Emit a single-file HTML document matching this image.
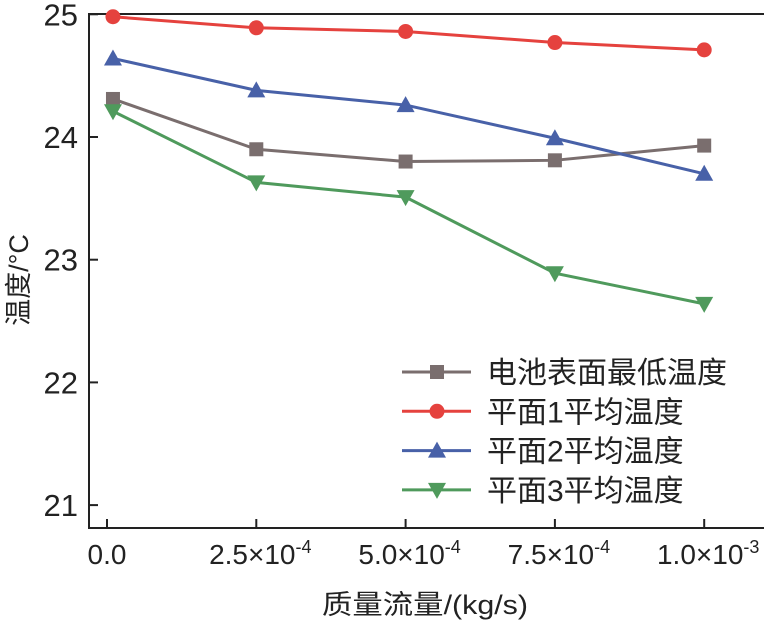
<!DOCTYPE html>
<html><head><meta charset="utf-8"><style>
body{margin:0;background:#fff;}
svg{display:block;font-family:"Liberation Sans","Noto Sans CJK SC",sans-serif;}
</style></head><body>
<svg id="chart" width="764" height="623">
<rect x="89" y="14" width="700" height="514" fill="none" stroke="#222" stroke-width="2"/>
<g id="axes"></g>
<g id="series"></g>
<g id="legend"></g>
<text x="425" y="614" font-size="27" text-anchor="middle" fill="#222" textLength="206" lengthAdjust="spacingAndGlyphs">质量流量/(kg/s)</text>
<text transform="translate(28,280) rotate(-90)" font-size="27" text-anchor="middle" fill="#222">温度/°C</text>
</svg>
<script>
const xValues = [0.00001, 0.00025, 0.0005, 0.00075, 0.001];
const seriesNames = ["电池表面最低温度","平面1平均温度","平面2平均温度","平面3平均温度"];
const minTemp = [24.31, 23.90, 23.80, 23.81, 23.93];
const plane1 = [24.98, 24.89, 24.86, 24.77, 24.71];
const plane2 = [24.64, 24.38, 24.26, 23.99, 23.70];
const plane3 = [24.21, 23.63, 23.51, 22.89, 22.64];
const yTicks = [21, 22, 23, 24, 25];
const xTicks = [0, 0.00025, 0.0005, 0.00075, 0.001];
const xTickLabels = ["0.0", "2.5×10<tspan dy='-11' font-size='18'>-4</tspan>", "5.0×10<tspan dy='-11' font-size='18'>-4</tspan>", "7.5×10<tspan dy='-11' font-size='18'>-4</tspan>", "1.0×10<tspan dy='-11' font-size='18'>-3</tspan>"];

const NS = "http://www.w3.org/2000/svg";
const xs = v => 107 + v / 0.00025 * 149.3;
const ys = v => 137 - (v - 24) * 122.7;
function mk(tag, attrs, parent){const e=document.createElementNS(NS,tag);for(const k in attrs)e.setAttribute(k,attrs[k]);parent.appendChild(e);return e;}
const axes = document.getElementById('axes');
yTicks.forEach(t=>{
  const y=ys(t);
  const l=mk('line',{x1:89,x2:98,y1:y,y2:y,stroke:'#222','stroke-width':2},axes);
  
  
  const tx=mk('text',{x:78,y:y+11,'font-size':31,'text-anchor':'end',fill:'#222'},axes);
  tx.textContent=t;
  
  
});
xTicks.forEach((t,i)=>{
  const x=xs(t);
  const l=mk('line',{x1:x,x2:x,y1:519,y2:528,stroke:'#222','stroke-width':2},axes);
  
  
  const tx=mk('text',{x:x+(i==0?0:4),y:564,'font-size':28,'text-anchor':'middle',fill:'#222'},axes);
  tx.innerHTML=xTickLabels[i];
  
  
});
const colors=["#7a6e6e","#e5423e","#4861a8","#4f9a5c"];
const shapes=["square","circle","up","down"];
const data=[minTemp,plane1,plane2,plane3];
function marker(g,shape,x,y,c){
  let m;
  if(shape==="square")m=mk('rect',{x:x-7,y:y-7,width:14,height:14,fill:c},g);
  else if(shape==="circle")m=mk('circle',{cx:x,cy:y,r:7.5,fill:c},g);
  else if(shape==="up")m=mk('polygon',{points:`${x},${y-9} ${x-9},${y+7} ${x+9},${y+7}`,fill:c},g);
  else m=mk('polygon',{points:`${x},${y+9} ${x-9},${y-7} ${x+9},${y-7}`,fill:c},g);
  
  
}
const sg=document.getElementById('series');
data.forEach((arr,si)=>{
  const g=mk('g',{},sg);
  
  
  const pl=mk('polyline',{points:arr.map((v,i)=>xs(xValues[i])+','+ys(v)).join(' '),fill:'none',stroke:colors[si],'stroke-width':3},g);
  
  
  arr.forEach((v,i)=>marker(g,shapes[si],xs(xValues[i]),ys(v),colors[si]));
});
const lg=document.getElementById('legend');


seriesNames.forEach((n,i)=>{
  const y=372+i*39.3;
  const g=mk('g',{},lg);
  
  
  mk('line',{x1:402,x2:471,y1:y,y2:y,stroke:colors[i],'stroke-width':3},g);
  marker(g,shapes[i],437,y,colors[i]);
  const t=mk('text',{x:487,y:y+11,'font-size':30,fill:'#222'},g);
  t.textContent=n;
});
</script>
</body></html>
